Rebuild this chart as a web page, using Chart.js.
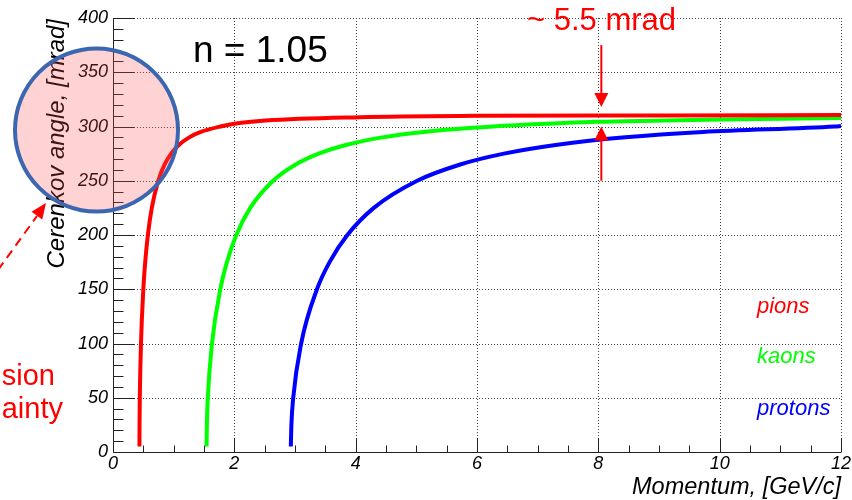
<!DOCTYPE html>
<html>
<head>
<meta charset="utf-8">
<script src="https://cdn.jsdelivr.net/npm/chart.js@4/dist/chart.umd.min.js"></script>
<style>
  html, body { margin: 0; padding: 0; background: #ffffff; }
  #wrap { width: 852px; height: 500px; position: relative; }
</style>
</head>
<body>
<div id="wrap"><canvas id="c" width="852" height="500"></canvas></div>
<script>
// ---- data ----
const pionP = [0.4360, 0.4374, 0.4419, 0.4614, 0.5001, 0.5310, 0.5747, 0.6396, 0.7459, 0.8514, 0.9585, 1.0854, 1.2559, 1.4468, 1.7703, 2.0, 2.5144, 4.0665, 6, 9, 12];
const pionTheta = [5, 25, 50, 100, 150, 175, 200, 225, 250, 265, 275, 283, 290, 295, 300, 302.5, 305.5, 308.6, 309.8, 310.2, 310.5];
const kaonP = [1.5422, 1.5472, 1.5631, 1.6319, 1.7690, 1.8783, 2.0327, 2.2622, 2.6382, 3.0115, 3.3903, 3.8393, 4.4423, 5.1175, 6.2616, 8, 8.894, 10, 12];
const kaonTheta = [5, 25, 50, 100, 150, 175, 200, 225, 250, 265, 275, 283, 290, 295, 300, 304.3, 305.4, 306.5, 307.8];
const protonP = [2.9311, 2.9405, 2.9708, 3.1016, 3.3622, 3.5699, 3.8633, 4.2995, 5.0141, 5.7236, 6.4434, 7.2969, 8.4428, 9.7262, 11.900, 12];
const protonTheta = [5, 25, 50, 100, 150, 175, 200, 225, 250, 265, 275, 283, 290, 295, 300, 300.4];

const seriesNames = ['pions', 'kaons', 'protons'];
const xTickValues = [0, 2, 4, 6, 8, 10, 12];
const yTickValues = [0, 50, 100, 150, 200, 250, 300, 350, 400];
const xTitle = 'Momentum, [GeV/c]';
const yTitle = 'Cerenkov angle, [mrad]';
const refIndexLabel = 'n = 1.05';
const gapLabel = '~ 5.5 mrad';
const gapMomentum = 8;
const gapArrowDown = [375, 318];
const gapArrowUp = [250, 300];
const sideText = ['sion', 'ainty'];

const FONT = '"Liberation Sans", Arial, Helvetica, sans-serif';
const colors = ['#ff0000', '#00ff00', '#0000ff'];

function pts(xs, ys) { return xs.map((x, i) => ({ x: x, y: ys[i] })); }

const overlay = {
  id: 'overlay',
  beforeDatasetsDraw(chart) {
    const ctx = chart.ctx, a = chart.chartArea, xs = chart.scales.x, ys = chart.scales.y;
    ctx.save();
    ctx.strokeStyle = '#444';
    ctx.lineWidth = 1;
    ctx.setLineDash([1, 2]);
    yTickValues.forEach(v => {
      if (v === 0) return;
      const y = Math.round(ys.getPixelForValue(v)) + 0.5;
      ctx.beginPath(); ctx.moveTo(a.left, y); ctx.lineTo(a.right, y); ctx.stroke();
    });
    xTickValues.forEach(v => {
      if (v === 0) return;
      const x = Math.round(xs.getPixelForValue(v)) + 0.5;
      ctx.beginPath(); ctx.moveTo(x, a.top); ctx.lineTo(x, a.bottom); ctx.stroke();
    });
    ctx.restore();
  },
  afterDatasetsDraw(chart) {
    const ctx = chart.ctx, a = chart.chartArea, xs = chart.scales.x, ys = chart.scales.y;
    ctx.save();
    ctx.strokeStyle = '#222';
    ctx.lineWidth = 1;
    ctx.setLineDash([]);
    // axes
    const x0 = Math.round(a.left) + 0.5, y0 = Math.round(a.bottom) + 0.5;
    ctx.beginPath(); ctx.moveTo(x0, a.top); ctx.lineTo(x0, y0); ctx.lineTo(a.right, y0); ctx.stroke();
    // y ticks (inward)
    for (let v = 0; v <= 400; v += 10) {
      const y = Math.round(ys.getPixelForValue(v)) + 0.5;
      const len = (v % 50 === 0) ? 21 : 10;
      ctx.beginPath(); ctx.moveTo(x0, y); ctx.lineTo(x0 + len, y); ctx.stroke();
    }
    // x ticks (inward)
    for (let v = 0; v <= 12; v += 0.5) {
      const x = Math.round(xs.getPixelForValue(v)) + 0.5;
      const len = (v % 2 === 0) ? 14 : 7;
      ctx.beginPath(); ctx.moveTo(x, y0); ctx.lineTo(x, y0 - len); ctx.stroke();
    }
    // axis titles
    ctx.fillStyle = '#000';
    ctx.font = 'italic 23.5px ' + FONT;
    ctx.textAlign = 'right';
    ctx.textBaseline = 'middle';
    ctx.fillText(xTitle, a.right, 487);
    ctx.save();
    ctx.translate(57, a.top + 1);
    ctx.rotate(-Math.PI / 2);
    ctx.font = 'italic 24px ' + FONT;
    ctx.textAlign = 'right';
    ctx.fillText(yTitle, 0, 0);
    ctx.restore();

    // legend texts
    ctx.textAlign = 'left';
    ctx.textBaseline = 'alphabetic';
    ctx.font = 'italic 22px ' + FONT;
    const legendY = [313, 363, 415];
    seriesNames.forEach((n, i) => { ctx.fillStyle = colors[i]; ctx.fillText(n, 757, legendY[i]); });

    // n = 1.05
    ctx.fillStyle = '#000';
    ctx.font = '37px ' + FONT;
    ctx.fillText(refIndexLabel, 193, 62);

    // gap annotation
    ctx.fillStyle = '#ff0000';
    ctx.strokeStyle = '#ff0000';
    ctx.font = '31px ' + FONT;
    ctx.fillText(gapLabel, 527, 30);
    const ax = xs.getPixelForValue(gapMomentum) + 3;
    function arrow(fromV, toV) {
      const yf = ys.getPixelForValue(fromV), yt = ys.getPixelForValue(toV);
      const dir = yt > yf ? 1 : -1;
      ctx.lineWidth = 2;
      ctx.beginPath(); ctx.moveTo(ax, yf); ctx.lineTo(ax, yt - dir * 12); ctx.stroke();
      ctx.beginPath();
      ctx.moveTo(ax, yt); ctx.lineTo(ax - 7, yt - dir * 14); ctx.lineTo(ax + 7, yt - dir * 14);
      ctx.closePath(); ctx.fill();
    }
    arrow(gapArrowDown[0], gapArrowDown[1]);
    arrow(gapArrowUp[0], gapArrowUp[1]);

    // side text (cut off at the left)
    ctx.font = '29px ' + FONT;
    ctx.textAlign = 'right';
    ctx.fillText(sideText[0], 55, 385);
    ctx.fillText(sideText[1], 63, 418);

    // dashed arrow
    ctx.lineWidth = 2;
    ctx.setLineDash([9, 6]);
    ctx.beginPath(); ctx.moveTo(-2, 270); ctx.lineTo(37, 216); ctx.stroke();
    ctx.setLineDash([]);
    const tx = 46, ty = 203;
    const ang = Math.atan2(270 - 203, -2 - 46);
    ctx.beginPath();
    ctx.moveTo(tx, ty);
    ctx.lineTo(tx + 17 * Math.cos(ang + 0.4), ty + 17 * Math.sin(ang + 0.4));
    ctx.lineTo(tx + 17 * Math.cos(ang - 0.4), ty + 17 * Math.sin(ang - 0.4));
    ctx.closePath(); ctx.fill();

    // highlighted circle
    ctx.beginPath();
    ctx.arc(96.5, 130, 81.5, 0, Math.PI * 2);
    ctx.fillStyle = 'rgba(255, 80, 80, 0.25)';
    ctx.fill();
    ctx.lineWidth = 4;
    ctx.strokeStyle = '#3b66b0';
    ctx.stroke();
    ctx.restore();
  }
};

new Chart(document.getElementById('c'), {
  type: 'line',
  data: {
    datasets: [
      { label: seriesNames[0], data: pts(pionP, pionTheta) },
      { label: seriesNames[1], data: pts(kaonP, kaonTheta) },
      { label: seriesNames[2], data: pts(protonP, protonTheta) }
    ].map((d, i) => Object.assign(d, {
      borderColor: colors[i], backgroundColor: colors[i], borderWidth: 4,
      pointRadius: 0, fill: false, cubicInterpolationMode: 'monotone'
    }))
  },
  options: {
    responsive: false,
    animation: false,
    devicePixelRatio: 1,
    layout: { padding: { top: 18, right: 11, left: 0, bottom: 0 } },
    plugins: { legend: { display: false }, tooltip: { enabled: false } },
    scales: {
      x: {
        type: 'linear', min: 0, max: 12,
        afterFit: s => { s.height = 48; },
        afterBuildTicks: s => { s.ticks = xTickValues.map(v => ({ value: v })); },
        grid: { display: false, drawTicks: false },
        border: { display: false },
        ticks: { padding: 1, color: '#000', font: { family: FONT, size: 18, style: 'italic' }, maxRotation: 0 }
      },
      y: {
        type: 'linear', min: 0, max: 400,
        afterFit: s => { s.width = 113; },
        afterBuildTicks: s => { s.ticks = yTickValues.map(v => ({ value: v })); },
        grid: { display: false, drawTicks: false },
        border: { display: false },
        ticks: { padding: 5, color: '#000', font: { family: FONT, size: 18, style: 'italic' } }
      }
    }
  },
  plugins: [overlay]
});
</script>
</body>
</html>
